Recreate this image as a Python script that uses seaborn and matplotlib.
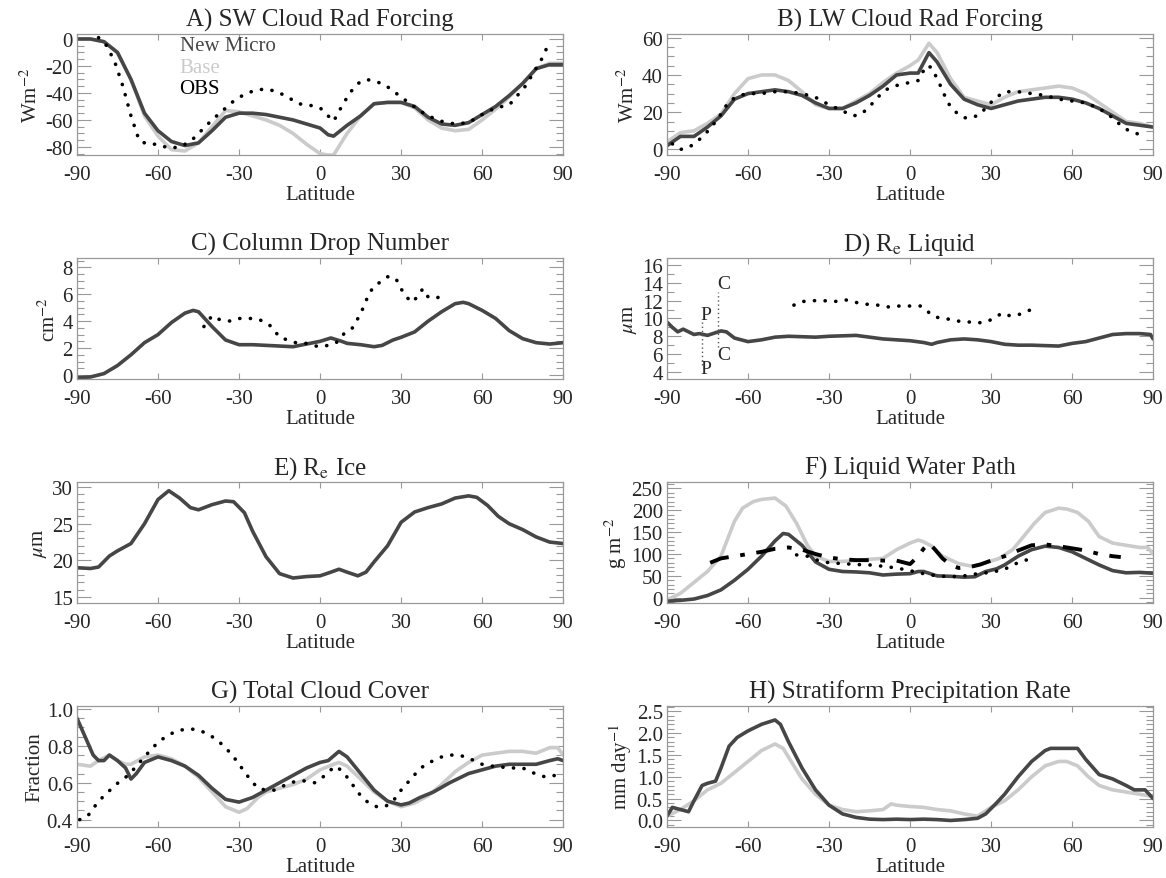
#zonal mean cloud diagnostics: New Micro vs Base vs OBS
import numpy as np
import pandas as pd
import seaborn as sns
import matplotlib
matplotlib.use('Agg')
from matplotlib import pyplot as plt
from matplotlib.ticker import MultipleLocator, FormatStrFormatter

#A) SW cloud rad forcing
lat_a = [-90,-85,-80,-75,-70,-65,-60,-55,-50,-45,-40,-35,-30,-25,-20,-15,-10,-5,0,3,5,10,15,20,25,30,35,40,45,50,55,60,65,70,75,80,85,90]
sw_new = [0,0,-2,-10,-30,-55,-68,-76,-79,-77,-68,-58,-55,-55,-56,-58,-60,-63,-66,-71,-72,-64,-57,-48,-47,-47,-50,-58,-63,-64,-62,-56,-50,-42,-33,-22,-19,-19]
sw_base = [0,0,-2,-10,-30,-57,-72,-82,-83,-77,-65,-53,-54,-57,-60,-64,-70,-78,-85,-86,-86,-70,-57,-48,-47,-47,-51,-60,-66,-68,-67,-60,-52,-43,-33,-22,-18,-18]
lat_a_obs = [-82,-79,-76,-73,-70,-67,-64,-60,-56,-52,-48,-44,-40,-36,-32,-28,-24,-20,-16,-12,-8,-4,0,3,5,8,11,14,17,20,24,28,32,36,40,45,50,55,60,65,70,73,76,79,82,85]
sw_obs = [1,-5,-17,-35,-57,-75,-78,-78,-81,-80,-76,-68,-60,-53,-46,-41,-38,-37,-39,-43,-48,-49,-51,-57,-61,-50,-40,-33,-30,-31,-34,-40,-46,-52,-57,-61,-63,-62,-56,-51,-49,-42,-35,-25,-15,-2]

#B) LW cloud rad forcing
lat_b = [-90,-87,-85,-80,-75,-70,-65,-60,-55,-50,-45,-40,-35,-30,-25,-20,-15,-10,-5,0,3,7,10,15,20,25,30,35,40,45,50,55,60,65,70,75,80,85,90]
lw_new = [2,5,7,7,12,18,27,30,31,32,31,29,25,22,22,25,29,34,40,41,41,52,47,35,27,24,22,24,26,27,28,28,27,25,22,18,14,13,12]
lw_base = [4,7,9,10,14,19,30,38,40,40,37,31,24,22,22,26,30,36,41,45,48,57,52,38,28,26,24,28,31,32,33,34,33,30,25,20,15,14,12]
lat_b_obs = [-88,-85,-82,-79,-76,-73,-70,-67,-63,-60,-55,-50,-45,-40,-35,-30,-27,-24,-21,-18,-15,-12,-9,-6,-3,0,3,6,8,11,14,17,20,23,26,29,32,35,40,45,50,55,60,65,70,75,78,81,85]
lw_obs = [3,0,1,4,8,13,19,26,29,30,30,31,31,30,28,24,22,20,18,19,23,28,32,34,35,36,37,45,44,35,25,20,17,17,19,24,28,31,31,30,29,27,26,25,22,17,13,10,8]

#C) column drop number
lat_c = [-90,-85,-80,-75,-70,-65,-60,-55,-50,-47,-45,-40,-35,-30,-25,-20,-15,-10,-5,0,4,8,10,15,20,23,27,30,35,40,45,50,53,55,60,65,70,75,80,85,90]
cdn_new = [-0.2,-0.15,0.1,0.7,1.5,2.4,3.0,3.9,4.6,4.8,4.7,3.6,2.6,2.25,2.25,2.2,2.15,2.1,2.3,2.5,2.75,2.5,2.35,2.25,2.1,2.2,2.6,2.8,3.2,4.0,4.7,5.3,5.4,5.3,4.8,4.2,3.3,2.7,2.4,2.3,2.4]
lat_c_obs = [-43,-40,-37,-33,-30,-27,-24,-21,-18,-15,-12,-9,-6,-3,0,3,6,9,12,14,16,18,20,23,25,28,30,32,34,36,38,40,43,46]
cdn_obs = [3.6,4.4,4.1,4.0,4.2,4.2,4.2,4.0,3.6,2.8,2.6,2.4,2.4,2.2,2.1,2.2,2.4,3.1,3.5,4.2,5.0,6.0,6.6,7.0,7.3,7.2,6.4,5.8,5.4,5.8,6.4,5.8,5.7,6.0]

#D) Re liquid
lat_d = [-90,-88,-86,-84,-82,-80,-78,-75,-72,-70,-68,-65,-60,-55,-50,-45,-40,-35,-30,-25,-20,-15,-10,-5,0,5,8,10,15,20,25,30,35,40,45,50,55,60,65,70,75,80,85,89,90]
rel_new = [9.6,9.0,8.5,8.8,8.5,8.2,8.3,8.1,8.4,8.6,8.5,7.8,7.4,7.6,7.9,8.0,7.95,7.9,8.0,8.05,8.1,7.9,7.7,7.6,7.5,7.3,7.1,7.3,7.6,7.7,7.6,7.4,7.1,7.0,7.0,6.95,6.9,7.2,7.4,7.8,8.2,8.3,8.3,8.2,7.7]
lat_d_obs = [-43,-40,-36,-32,-28,-24,-20,-16,-12,-8,-4,0,4,6,9,12,15,18,22,25,28,31,34,37,40,43,47]
rel_obs = [11.5,11.9,12.0,12.0,11.9,12.1,11.8,11.6,11.5,11.3,11.4,11.4,11.4,10.9,10.2,10.0,9.9,9.7,9.6,9.5,9.6,10.0,10.6,10.3,10.4,10.8,11.2]

#E) Re ice
lat_e = [-90,-85,-82,-78,-75,-70,-65,-60,-56,-52,-48,-45,-40,-35,-32,-28,-25,-20,-15,-10,-5,0,4,7,10,14,17,20,25,30,35,40,45,50,55,58,62,66,70,75,80,85,90]
rei_new = [19.0,18.9,19.1,20.6,21.3,22.3,25.0,28.3,29.5,28.5,27.2,26.9,27.6,28.1,28.0,26.5,24.0,20.5,18.2,17.6,17.8,17.9,18.4,18.8,18.4,17.9,18.4,19.8,22.0,25.2,26.6,27.2,27.7,28.5,28.8,28.6,27.5,26.0,25.0,24.2,23.2,22.5,22.3]

#F) liquid water path
lat_f = [-90,-85,-80,-75,-70,-65,-60,-55,-50,-47,-45,-40,-35,-30,-25,-20,-15,-10,-5,0,3,5,10,15,20,24,28,32,35,40,45,50,55,60,65,70,75,80,85,90]
lwp_new = [-8,-6,-3,5,18,40,65,95,130,147,145,120,82,65,60,59,57,52,54,55,60,60,50,49,47,48,60,66,75,95,110,118,115,105,90,75,62,57,58,56]
lat_f_base = [-90,-85,-80,-75,-70,-65,-62,-58,-55,-50,-46,-42,-38,-35,-30,-25,-20,-15,-10,-5,0,3,5,8,12,18,23,28,33,38,42,46,50,55,58,62,66,70,75,80,85,88,90]
lwp_base = [-5,10,35,60,95,175,205,220,225,228,210,170,120,95,83,83,85,88,90,110,125,132,128,118,95,78,72,80,90,110,140,170,195,205,203,195,175,140,125,120,115,115,100]
lat_f_obs1 = [-74,-72,-70,-65,-60,-55,-50,-45,-40,-35,-30,-25,-20,-15,-10,-5,0,3,5,7,9,12,15,18,22,26,30,35,40,45,50,55,60,65,70,75,78]
lwp_obs1 = [80,85,90,95,100,105,112,115,110,100,92,88,86,86,85,85,77,95,112,125,112,90,75,68,70,76,85,95,108,120,122,118,113,108,100,95,93]
lat_f_obs2 = [-42,-38,-34,-30,-25,-20,-15,-10,-5,0,5,10,15,20,25,30,35,38,42,46]
lwp_obs2 = [98,95,85,80,78,76,75,72,68,62,55,50,48,50,55,58,65,75,85,90]

#G) total cloud cover
lat_g = [-90,-87,-84,-82,-80,-78,-75,-72,-70,-68,-65,-60,-55,-50,-45,-40,-35,-30,-25,-20,-15,-10,-5,0,3,7,10,15,20,25,30,33,37,42,48,55,60,65,70,75,80,85,88,90]
tcc_new = [0.95,0.85,0.75,0.72,0.72,0.75,0.72,0.68,0.62,0.65,0.71,0.74,0.72,0.69,0.64,0.57,0.51,0.495,0.52,0.56,0.6,0.64,0.68,0.71,0.72,0.77,0.74,0.65,0.56,0.5,0.48,0.49,0.52,0.55,0.6,0.65,0.67,0.69,0.7,0.7,0.7,0.72,0.73,0.72]
lat_g_base = [-90,-85,-82,-78,-75,-72,-70,-65,-60,-55,-50,-45,-40,-35,-30,-27,-23,-20,-15,-10,-5,0,5,7,10,15,20,25,30,35,40,45,50,55,60,65,70,75,80,85,88,90]
tcc_base = [0.7,0.69,0.72,0.75,0.72,0.7,0.7,0.74,0.75,0.73,0.69,0.63,0.55,0.47,0.44,0.46,0.52,0.55,0.57,0.59,0.62,0.67,0.7,0.71,0.69,0.62,0.55,0.5,0.47,0.49,0.53,0.59,0.66,0.71,0.75,0.76,0.77,0.77,0.76,0.79,0.79,0.75]
lat_g_obs = [-89,-86,-83,-80,-77,-74,-71,-68,-65,-62,-59,-56,-53,-50,-47,-44,-41,-38,-35,-32,-29,-26,-23,-20,-17,-14,-11,-8,-5,-2,1,4,6,9,12,15,18,21,24,27,30,33,36,39,42,45,48,51,54,57,60,63,66,69,72,75,78,81,84,87,89]
tcc_obs = [0.4,0.42,0.48,0.53,0.57,0.61,0.64,0.69,0.74,0.79,0.83,0.86,0.88,0.89,0.89,0.88,0.86,0.83,0.79,0.74,0.68,0.62,0.57,0.56,0.56,0.58,0.6,0.61,0.61,0.6,0.63,0.67,0.69,0.65,0.59,0.53,0.49,0.47,0.47,0.5,0.56,0.61,0.66,0.7,0.72,0.74,0.75,0.75,0.74,0.72,0.7,0.69,0.69,0.68,0.68,0.68,0.66,0.64,0.63,0.64,0.65]

#H) stratiform precip
lat_h = [-90,-88,-85,-82,-80,-77,-75,-72,-70,-67,-64,-60,-55,-50,-48,-45,-40,-35,-30,-25,-20,-15,-10,-5,0,5,10,15,20,25,28,32,35,40,45,50,52,55,60,62,65,70,75,80,83,87,90]
prc_new = [0.1,0.3,0.25,0.2,0.45,0.8,0.85,0.9,1.2,1.7,1.9,2.05,2.2,2.3,2.2,1.8,1.2,0.7,0.35,0.15,0.07,0.03,0.02,0.03,0.02,0.03,0.02,0.0,0.02,0.05,0.15,0.4,0.6,1.0,1.35,1.6,1.65,1.65,1.65,1.65,1.4,1.05,0.95,0.8,0.7,0.7,0.5]
lat_h_base = [-90,-85,-80,-75,-70,-65,-60,-55,-50,-47,-44,-40,-35,-30,-25,-20,-15,-10,-7,-5,0,5,10,15,20,25,30,35,40,45,50,55,58,62,66,70,75,80,85,90]
prc_base = [0.1,0.25,0.45,0.7,0.85,1.1,1.35,1.6,1.75,1.65,1.35,0.95,0.6,0.35,0.25,0.2,0.22,0.25,0.38,0.35,0.32,0.3,0.25,0.22,0.15,0.1,0.3,0.45,0.7,1.0,1.25,1.35,1.35,1.25,1.0,0.8,0.7,0.65,0.6,0.55]

NEW = '#464646'
BASE = '#cbcbcb'

sns.set_theme(style='ticks')
plt.rcParams['font.family'] = ['Liberation Serif', 'DejaVu Serif']
plt.rcParams['mathtext.fontset'] = 'stix'
plt.rcParams['axes.unicode_minus'] = False

fig = plt.figure(figsize=(11.66, 8.79), dpi=100)

cols = [0.066, 0.572]
rows = [0.8225, 0.5677, 0.3129, 0.058]
w, h = 0.417, 0.1377

def new_line(ax, x, y):
    sns.lineplot(x=x, y=y, ax=ax, color=NEW, lw=2.6, sort=False)

def base_line(ax, x, y):
    sns.lineplot(x=x, y=y, ax=ax, color=BASE, lw=2.6, sort=False)

def obs_dots(ax, x, y):
    sns.lineplot(x=x, y=y, ax=ax, color='black', lw=2.6, sort=False,
                 linestyle=(0, (0.05, 2.9)), dash_capstyle='round')

def style(ax, title, ylabel, ylim, major, minor):
    ax.set_xlim(-90, 90)
    ax.set_ylim(*ylim)
    ax.set_xticks(np.arange(-90, 91, 30))
    ax.yaxis.set_major_locator(MultipleLocator(major))
    ax.yaxis.set_minor_locator(MultipleLocator(minor))
    ax.tick_params(axis='x', direction='in', top=True, length=4, width=0.8,
                   color='#999999', labelsize=15, pad=7)
    ax.tick_params(axis='y', which='major', direction='in', right=True, length=10,
                   width=0.8, color='#999999', labelsize=15, pad=3)
    ax.tick_params(axis='y', which='minor', direction='in', right=True, length=5,
                   width=0.8, color='#999999')
    for s in ax.spines.values():
        s.set_color('#999999')
        s.set_linewidth(0.9)
    ax.set_title(title, fontsize=18, pad=6)
    ax.set_xlabel('Latitude', fontsize=15, labelpad=1)
    ax.set_ylabel(ylabel, fontsize=15, labelpad=2)

#A
ax = fig.add_axes([cols[0], rows[0], w, h])
base_line(ax, lat_a, sw_base)
new_line(ax, lat_a, sw_new)
obs_dots(ax, lat_a_obs, sw_obs)
style(ax, 'A) SW Cloud Rad Forcing', 'Wm$^{-2}$', (-86, 3.7), 20, 5)
ax.text(-52, -5, 'New Micro', color=NEW, fontsize=15, va='center')
ax.text(-52, -21, 'Base', color=BASE, fontsize=15, va='center')
ax.text(-52, -37, 'OBS', color='black', fontsize=15, va='center')

#B
ax = fig.add_axes([cols[1], rows[0], w, h])
base_line(ax, lat_b, lw_base)
new_line(ax, lat_b, lw_new)
obs_dots(ax, lat_b_obs, lw_obs)
style(ax, 'B) LW Cloud Rad Forcing', 'Wm$^{-2}$', (-3, 62), 20, 5)

#C
ax = fig.add_axes([cols[0], rows[1], w, h])
new_line(ax, lat_c, cdn_new)
obs_dots(ax, lat_c_obs, cdn_obs)
style(ax, 'C) Column Drop Number', 'cm$^{-2}$', (-0.3, 8.7), 2, 0.5)

#D
ax = fig.add_axes([cols[1], rows[1], w, h])
new_line(ax, lat_d, rel_new)
obs_dots(ax, lat_d_obs, rel_obs)
style(ax, 'D) R$_\\mathrm{e}$ Liquid', '$\\mu$m', (3.2, 16.8), 2, 1)
ax.vlines(-77, 4.8, 9.8, colors='#555555', linestyles=(0, (1, 2)), lw=1)
ax.vlines(-71, 6.8, 13.0, colors='#555555', linestyles=(0, (1, 2)), lw=1)
ax.text(-75.5, 10.5, 'P', fontsize=14, ha='center', va='center')
ax.text(-75.5, 4.4, 'P', fontsize=14, ha='center', va='center')
ax.text(-69, 13.9, 'C', fontsize=14, ha='center', va='center')
ax.text(-69, 6.0, 'C', fontsize=14, ha='center', va='center')

#E
ax = fig.add_axes([cols[0], rows[2], w, h])
new_line(ax, lat_e, rei_new)
style(ax, 'E) R$_\\mathrm{e}$ Ice', '$\\mu$m', (14.2, 30.7), 5, 1)

#F
ax = fig.add_axes([cols[1], rows[2], w, h])
base_line(ax, lat_f_base, lwp_base)
new_line(ax, lat_f, lwp_new)
obs_dots(ax, lat_f_obs2, lwp_obs2)
sns.lineplot(x=lat_f_obs1, y=lwp_obs1, ax=ax, color='black', lw=2.8, sort=False,
             linestyle=(0, (5, 3, 1.2, 3)))
style(ax, 'F) Liquid Water Path', 'g m$^{-2}$', (-12, 265), 50, 10)

#G
ax = fig.add_axes([cols[0], rows[3], w, h])
base_line(ax, lat_g_base, tcc_base)
new_line(ax, lat_g, tcc_new)
obs_dots(ax, lat_g_obs, tcc_obs)
style(ax, 'G) Total Cloud Cover', 'Fraction', (0.36, 1.016), 0.2, 0.05)
ax.yaxis.set_major_formatter(FormatStrFormatter('%.1f'))

#H
ax = fig.add_axes([cols[1], rows[3], w, h])
base_line(ax, lat_h_base, prc_base)
new_line(ax, lat_h, prc_new)
style(ax, 'H) Stratiform Precipitation Rate', 'mm day$^{-1}$', (-0.15, 2.62), 0.5, 0.1)
ax.yaxis.set_major_formatter(FormatStrFormatter('%.1f'))

fig.savefig('out.png', dpi=100, facecolor='white')
